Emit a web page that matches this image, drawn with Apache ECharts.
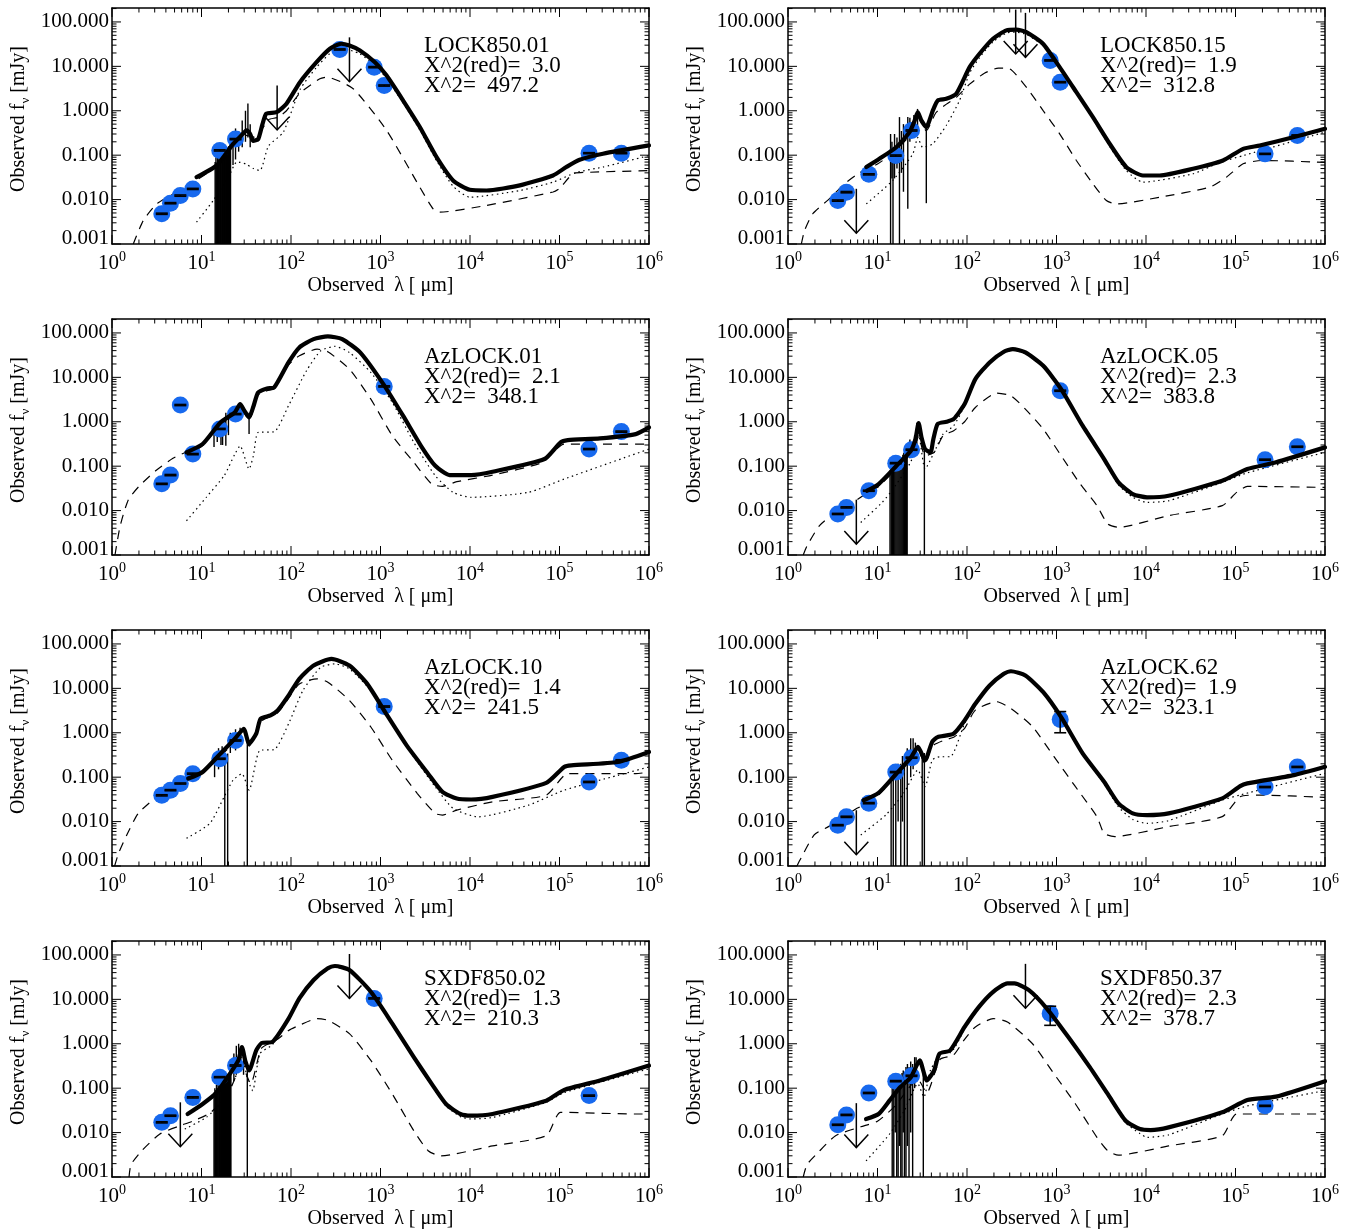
<!DOCTYPE html>
<html><head><meta charset="utf-8">
<script src="https://cdn.jsdelivr.net/npm/echarts@6/dist/echarts.min.js"></script>
<style>html,body{margin:0;padding:0;background:#fff}#c{width:1351px;height:1230px}</style>
</head><body><div id="c"></div>
<script>
// ---------- panel texts ----------
const panelNames = ['LOCK850.01','LOCK850.15','AzLOCK.01','AzLOCK.05','AzLOCK.10','AzLOCK.62','SXDF850.02','SXDF850.37'];
const chiRed = ['3.0','1.9','2.1','2.3','1.4','1.9','1.3','2.3'];
const chiTot = ['497.2','312.8','348.1','383.8','241.5','323.1','210.3','378.7'];
const xTickValues = [1,10,100,1e3,1e4,1e5,1e6];
const yTickValues = [0.001,0.01,0.1,1,10,100];
const tickMults = [1,2,3,4,5,6,7,8,9];

// ---------- LOCK850.01 ----------  [lambda um, flux mJy]  obs: [lambda, flux, error]
const lock01Total = [[8.8,0.032],[14.8,0.059],[22.6,0.18],[28,0.28],[32,0.36],[35,0.3],[37.8,0.21],[43,0.23],[48,0.5],[53,0.86],[69,0.93],[89,1.44],[126,4.4],[193,12.4],[272,24.9],[363,32.3],[450,29.5],[589,22.8],[865,12.4],[1170,6.2],[1790,1.7],[2750,0.43],[4230,0.09],[6470,0.027],[9950,0.0166],[15300,0.016],[36000,0.0209],[84700,0.035],[119000,0.054],[168000,0.079],[306000,0.108],[1e6,0.166]];
const lock01Dotted = [[8.8,0.0031],[13.5,0.0095],[20,0.032],[25,0.071],[31.6,0.063],[38,0.05],[45,0.045],[56,0.16],[82,0.33],[126,3.0],[193,9.5],[272,19.5],[363,26],[589,19],[865,10.5],[1170,5.3],[1790,1.5],[2750,0.37],[4230,0.075],[6470,0.02],[9950,0.0113],[36000,0.016],[84700,0.0247],[155000,0.041],[306000,0.054],[1e6,0.098]];
const lock01Dashed = [[1.73,0.001],[2.24,0.0034],[3.16,0.008],[5,0.014],[8.1,0.0247],[12.6,0.045],[20,0.112],[31.6,0.28],[39.8,0.25],[56,0.63],[71,0.71],[89,1.0],[126,2.5],[210,5.25],[251,5.7],[495,3.13],[1170,0.36],[2750,0.019],[3870,0.0062],[4600,0.0052],[15300,0.0074],[84700,0.0148],[100000,0.0178],[141000,0.038],[200000,0.041],[1e6,0.045]];
const lock01Obs = [[3.6,0.0048,0.00015],[4.5,0.0083,0.00025],[5.8,0.0123,0.0004],[8.0,0.0174,0.0005],[16,0.128,0.004],[24,0.23,0.007],[350,24,0.7],[850,9.6,0.3],[1100,3.7,0.11],[214000,0.111,0.003],[491000,0.111,0.003]];
const lock01Lim = [[70,3.7],[450,45]];
const lock01Irs = [[14.2,1e-4,0.07],[14.5,1e-4,0.09],[14.8,1e-4,0.06],[15.1,1e-4,0.1],[15.4,1e-4,0.08],[15.7,1e-4,0.12],[16.0,1e-4,0.09],[16.3,1e-4,0.11],[16.6,1e-4,0.07],[16.9,1e-4,0.1],[17.2,1e-4,0.13],[17.5,1e-4,0.09],[17.8,1e-4,0.12],[18.1,1e-4,0.1],[18.4,1e-4,0.14],[18.7,1e-4,0.11],[19.0,1e-4,0.12],[19.3,1e-4,0.09],[19.6,1e-4,0.15],[19.9,1e-4,0.12],[20.2,1e-4,0.16],[20.5,1e-4,0.13],[20.8,1e-4,0.18],[21.1,1e-4,0.15],[22.5,0.06,0.3],[24,0.08,0.4],[26,0.12,0.35],[28.5,0.15,0.6],[31,0.2,1.0],[33,0.25,1.45],[35,0.15,0.5]];

// ---------- LOCK850.15 ----------
const lock15Total = [[7.5,0.054],[10.5,0.083],[16.2,0.151],[22.8,0.33],[26,0.6],[28.2,0.93],[31,0.6],[35.1,0.43],[41.6,1.02],[47.3,1.71],[58.6,1.86],[75.9,2.42],[107,9.6],[138,19.2],[195,41.9],[275,64.6],[356,66.8],[460,58.9],[706,32.3],[1084,9.6],[1667,2.62],[2553,0.718],[3926,0.181],[6039,0.0537],[9247,0.0349],[14220,0.0349],[33500,0.0494],[72600,0.076],[121600,0.139],[186600,0.165],[440600,0.254],[1e6,0.394]];
const lock15Dotted = [[7.5,0.008],[14.8,0.027],[24.8,0.107],[28.2,0.25],[32,0.15],[41.6,0.181],[58.6,0.467],[82.6,1.71],[107,7.08],[138,15.8],[195,35.5],[275,56.2],[356,58.9],[460,52.5],[706,29.5],[1084,8.91],[1667,2.45],[2553,0.661],[3926,0.158],[6039,0.0447],[9247,0.0247],[33500,0.0381],[67600,0.0692],[123000,0.0984],[1e6,0.33]];
const lock15Dashed = [[1.41,0.001],[1.53,0.002],[1.89,0.0048],[2.91,0.0105],[4.29,0.0227],[6.3,0.04],[10,0.063],[15.8,0.126],[22.9,0.28],[28.2,0.71],[35.1,0.355],[44.7,0.89],[58.9,1.41],[75.9,2.0],[107,3.98],[158,7.08],[224,9.12],[299,8.81],[460,3.4],[706,1.02],[1084,0.303],[1667,0.076],[2553,0.0227],[3606,0.0095],[4667,0.008],[14220,0.0113],[51500,0.019],[79300,0.032],[121600,0.064],[203200,0.076],[1e6,0.069]];
const lock15Obs = [[3.6,0.0095,0.0003],[4.5,0.0147,0.0005],[8.0,0.037,0.0011],[16,0.098,0.003],[24,0.36,0.011],[850,13.6,0.4],[1100,4.4,0.13],[214000,0.107,0.003],[491000,0.278,0.008]];
const lock15Lim = [[5.8,0.0175],[350,190],[450,160]];
const lock15Irs = [[14.0,1e-4,0.3],[14.5,0.03,0.2],[14.9,1e-4,0.09],[15.5,0.03,0.3],[16.5,0.05,0.25],[17.6,1e-4,0.72],[18.5,0.04,0.35],[19.5,0.015,0.5],[21.8,0.0062,0.72],[23,0.2,0.7],[25.5,0.25,0.8],[28,0.4,1.1],[35.1,0.0083,0.43]];

// ---------- AzLOCK.01 ----------
const az01Total = [[6.8,0.205],[10.3,0.315],[16.3,0.968],[23.6,1.63],[27,2.5],[30,1.8],[34,1.25],[38,2.2],[42.9,4.58],[54,5.64],[64.9,5.93],[93.8,21.7],[124,47.2],[179,72.6],[258,83.4],[373,72.6],[592,36.4],[1076,7.06],[1786,1.37],[2831,0.288],[4093,0.102],[5916,0.063],[10280,0.063],[17870,0.075],[67900,0.145],[102800,0.344],[123600,0.387],[283000,0.423],[711000,0.528],[1e6,0.746]];
const az01Dotted = [[6.8,0.0059],[11.3,0.0199],[17.9,0.061],[23.6,0.187],[27,0.288],[34,0.086],[38,0.172],[42.9,0.575],[64.9,0.596],[93.8,2.3],[149,14.1],[215,39.7],[310,49.7],[449,36.4],[780,12.9],[1355,2.73],[2355,0.344],[4093,0.061],[6486,0.0257],[10280,0.0199],[44870,0.0257],[112700,0.0513],[1e6,0.243]];
const az01Dashed = [[1.08,0.001],[1.23,0.0044],[1.52,0.0174],[2.0,0.035],[3.1,0.08],[4.8,0.15],[6.5,0.2],[8,0.215],[10.3,0.29],[16.3,0.85],[23.6,1.4],[27,2.1],[34,1.1],[42.9,4.0],[54,5.0],[64.9,5.5],[93.8,19],[124,30.6],[196,43.3],[258,37.7],[449,15.3],[780,3.24],[1355,0.485],[2355,0.122],[3733,0.0396],[4920,0.0351],[7112,0.0447],[17870,0.063],[64900,0.122],[112700,0.315],[1e6,0.315]];
const az01Obs = [[3.6,0.040,0.0012],[4.5,0.063,0.002],[5.8,2.38,0.07],[8.0,0.187,0.006],[16,0.69,0.02],[24,1.49,0.045],[1100,6.25,0.19],[214000,0.243,0.007],[491000,0.60,0.018]];
const az01Lim = [];
const az01Irs = [[13.8,0.27,0.7],[15,0.35,0.8],[16.5,0.3,0.9],[17.2,0.3,1.0],[18.7,0.29,1.6],[20,0.5,1.3],[34,0.53,1.6]];

// ---------- AzLOCK.05 ----------
const az05Total = [[7.66,0.028],[10.3,0.0396],[16.3,0.102],[23.6,0.223],[26.5,0.4],[28.8,0.935],[31,0.45],[34,0.243],[39.1,0.205],[42,0.4],[47,0.887],[59,1.0],[71,1.15],[94,2.5],[124,9.14],[179,21.7],[258,37.7],[325,43.3],[449,36.4],[711,18.2],[1127,5.44],[1959,0.815],[3404,0.145],[4920,0.0432],[7112,0.0236],[10280,0.0199],[17870,0.0216],[71120,0.0471],[135500,0.0861],[283100,0.122],[1e6,0.265]];
const az05Dotted = [[6.5,0.0054],[11.3,0.0153],[14.9,0.0305],[23.6,0.126],[28.8,0.5],[34,0.086],[42.9,0.204],[54,0.528],[71,0.815],[94,2.29],[124,8.5],[179,20.4],[258,35.5],[325,40.7],[449,34.7],[711,17.4],[1127,5.25],[1959,0.79],[3404,0.138],[4920,0.038],[7112,0.02],[10280,0.0153],[17870,0.0166],[71120,0.0432],[135500,0.0708],[1e6,0.205]];
const az05Dashed = [[1.48,0.001],[1.63,0.0016],[2.25,0.0046],[3.4,0.0091],[5.0,0.014],[7.66,0.025],[10.3,0.035],[16.3,0.089],[23.6,0.19],[28.8,0.45],[34,0.172],[42.9,0.204],[54,0.484],[71,0.63],[94,1.0],[124,2.1],[215,4.43],[310,3.85],[449,1.93],[711,0.685],[1127,0.172],[1786,0.0432],[2831,0.0129],[3733,0.005],[4920,0.0042],[17870,0.0077],[71120,0.0129],[102800,0.0257],[135500,0.0351],[1e6,0.0333]];
const az05Obs = [[3.6,0.0084,0.00025],[4.5,0.0118,0.00035],[8.0,0.028,0.0008],[16,0.117,0.0035],[24,0.235,0.007],[1100,5.0,0.15],[214000,0.14,0.004],[491000,0.274,0.008]];
const az05Lim = [[5.8,0.0176]];
const az05Irs = [[13.8,1e-4,0.08],[14.25,1e-4,0.12],[14.7,1e-4,0.09],[15.15,1e-4,0.11],[15.6,1e-4,0.13],[16.05,1e-4,0.1],[16.5,1e-4,0.14],[16.95,1e-4,0.12],[17.4,1e-4,0.15],[17.85,1e-4,0.11],[18.3,1e-4,0.16],[18.75,1e-4,0.13],[19.2,1e-4,0.18],[19.65,1e-4,0.2],[20.1,1e-4,0.16],[20.55,1e-4,0.22],[21.0,1e-4,0.19],[21.45,1e-4,0.25],[23,0.15,0.4],[26,0.2,0.5],[27.5,0.25,0.95],[33.4,1e-4,0.24]];

// ---------- AzLOCK.10 ----------
const az10Total = [[7.1,0.093],[10.3,0.131],[16.3,0.339],[23.6,0.736],[29.6,1.23],[34,0.568],[40.9,0.953],[45.7,2.07],[59,2.46],[71,3.18],[94,6.92],[124,16.4],[179,32.6],[283,46.0],[449,32.6],[711,12.6],[1127,2.92],[1959,0.521],[3404,0.12],[4920,0.0467],[7112,0.033],[10280,0.0314],[17870,0.036],[71120,0.0743],[112700,0.17],[135500,0.185],[448700,0.22],[1e6,0.369]];
const az10Dotted = [[6.8,0.0042],[12.4,0.0091],[17.9,0.036],[22.5,0.0853],[28.3,0.12],[34,0.0509],[44.9,0.403],[64.9,0.417],[94,1.6],[136,8.95],[215,29.9],[310,35.6],[449,27.5],[780,8.95],[1355,1.6],[2355,0.285],[4093,0.0604],[6486,0.0197],[12360,0.0128],[44870,0.0234],[112700,0.0509],[448700,0.11],[1e6,0.17]];
const az10Dashed = [[1.07,0.001],[1.18,0.0019],[1.49,0.0054],[1.96,0.0152],[2.83,0.0303],[3.47,0.0429],[5.0,0.063],[7.8,0.112],[10.3,0.126],[16.3,0.302],[23.6,0.63],[29.6,1.12],[34,0.5],[45.7,1.78],[71,2.82],[94,6.03],[124,12.6],[196,16.4],[258,13.8],[449,5.35],[780,1.35],[1355,0.24],[2582,0.0428],[4093,0.0152],[4920,0.014],[7112,0.0181],[17870,0.0279],[71120,0.0393],[123600,0.12],[711000,0.12],[1e6,0.13]];
const az10Obs = [[3.6,0.039,0.0012],[4.5,0.051,0.0015],[5.8,0.072,0.002],[8.0,0.12,0.0036],[16,0.26,0.008],[24,0.67,0.02],[1100,3.9,0.12],[214000,0.078,0.0023],[491000,0.24,0.007]];
const az10Lim = [];
const az10Irs = [[14,0.1,0.35],[15.5,0.15,0.45],[17,0.2,0.5],[18.2,1e-4,0.34],[19.6,1e-4,0.34],[21,0.35,1.0],[24,0.4,1.2],[27,0.5,1.3],[32.5,1e-4,0.68]];

// ---------- AzLOCK.62 ----------
const az62Total = [[6.98,0.0303],[10.3,0.0444],[16.3,0.121],[23.6,0.275],[28.3,0.479],[34,0.24],[40.9,0.631],[47,0.8],[59,0.871],[71,0.951],[94,1.89],[124,4.48],[179,11.6],[258,21.2],[310,24.3],[449,19.4],[711,8.18],[1127,2.24],[1959,0.342],[3404,0.0789],[4920,0.0257],[7112,0.0153],[10280,0.014],[17870,0.0153],[71120,0.0333],[112700,0.063],[135500,0.0724],[448700,0.111],[1e6,0.171]];
const az62Dotted = [[6.5,0.005],[12.4,0.0141],[19.6,0.0432],[28.3,0.145],[34,0.061],[40.9,0.243],[49.2,0.288],[64.9,0.288],[94,1.62],[124,4.33],[179,11.2],[258,20.4],[310,23.4],[449,18.6],[711,7.94],[1127,2.14],[1959,0.324],[3404,0.0708],[4920,0.0214],[7112,0.0112],[10280,0.0091],[17870,0.0105],[71120,0.0305],[112700,0.0398],[1e6,0.122]];
const az62Dashed = [[1.26,0.001],[1.36,0.00136],[1.96,0.005],[2.83,0.0077],[3.56,0.01],[5.9,0.0199],[7.9,0.025],[10.3,0.04],[16.3,0.112],[23.6,0.25],[28.3,0.4],[34,0.2],[40.9,0.5],[59,0.71],[71,0.79],[94,1.26],[124,3.24],[215,5.0],[310,3.53],[540,1.37],[938,0.289],[1629,0.061],[2831,0.0129],[3404,0.0054],[4487,0.0046],[17870,0.0077],[71120,0.0129],[112700,0.0363],[178600,0.0396],[1e6,0.0351]];
const az62Obs = [[3.6,0.0083,0.00025],[4.5,0.0128,0.0004],[8.0,0.026,0.0008],[16,0.13,0.004],[24,0.275,0.008],[1100,2.0,1.0],[214000,0.06,0.0018],[491000,0.17,0.005]];
const az62Lim = [[5.8,0.018]];
const az62Irs = [[14.2,1e-4,0.1],[15,1e-4,0.12],[16,1e-4,0.13],[17,0.01,0.2],[18.2,1e-4,0.2],[19,0.01,0.3],[20,1e-4,0.3],[21.5,1e-4,0.45],[23.5,0.1,0.75],[25,0.15,0.75],[26.5,0.2,0.6],[31.6,1e-4,0.3],[33.4,1e-4,0.35]];

// ---------- SXDF850.02 ----------
const sx02Total = [[7.0,0.0262],[10.3,0.0441],[14.9,0.0809],[19.6,0.177],[25.8,0.421],[28.3,0.843],[31,0.4],[34,0.25],[40.9,0.71],[47,1.04],[61.9,1.1],[94,3.69],[124,10.5],[179,27.2],[258,49.9],[310,56.4],[449,45.8],[780,14.8],[1355,2.84],[2355,0.501],[3733,0.125],[5395,0.0441],[7798,0.0262],[10280,0.024],[17870,0.0262],[71120,0.0524],[112700,0.0912],[283100,0.149],[1e6,0.324]];
const sx02Dotted = [[6.5,0.012],[11.3,0.022],[17.9,0.056],[25.8,0.25],[28.3,0.5],[33,0.15],[37.3,0.0883],[44.9,0.596],[61.9,0.955],[94,3.47],[124,10],[179,25.7],[258,46.8],[310,53.1],[449,43.6],[780,14.1],[1355,2.69],[2355,0.468],[3733,0.115],[5395,0.0398],[7798,0.0229],[10280,0.0202],[17870,0.0219],[71120,0.0481],[112700,0.0794],[1e6,0.273]];
const sx02Dashed = [[1.55,0.001],[1.63,0.0019],[2.15,0.0039],[3.4,0.0092],[5.6,0.014],[7.9,0.018],[12.6,0.028],[20,0.079],[28.2,0.32],[35.5,0.126],[46.8,0.79],[70.8,1.26],[94,2.0],[124,2.61],[196,3.69],[258,3.38],[449,1.69],[780,0.421],[1355,0.0741],[2355,0.011],[3404,0.0039],[4700,0.003],[17870,0.005],[71120,0.0085],[102800,0.0286],[711000,0.0262],[1e6,0.0262]];
const sx02Obs = [[3.6,0.017,0.0005],[4.5,0.024,0.0007],[8.0,0.062,0.0019],[16,0.177,0.005],[24,0.324,0.01],[850,10.5,0.3],[214000,0.068,0.002]];
const sx02Lim = [[5.8,0.048],[450,105]];
const sx02Irs = [[13.8,1e-4,0.08],[14.1,1e-4,0.1],[14.4,1e-4,0.09],[14.7,1e-4,0.12],[15.0,1e-4,0.1],[15.3,1e-4,0.13],[15.6,1e-4,0.11],[15.9,1e-4,0.12],[16.2,1e-4,0.1],[16.5,1e-4,0.14],[16.8,1e-4,0.12],[17.1,1e-4,0.13],[17.4,1e-4,0.11],[17.7,1e-4,0.15],[18.0,1e-4,0.13],[18.3,1e-4,0.16],[18.6,1e-4,0.14],[18.9,1e-4,0.17],[19.2,1e-4,0.15],[19.5,1e-4,0.18],[19.8,1e-4,0.2],[20.1,1e-4,0.17],[20.4,1e-4,0.22],[20.7,1e-4,0.2],[21.0,1e-4,0.25],[21.3,1e-4,0.22],[23,0.15,0.6],[24.5,0.2,0.9],[26,0.25,1.0],[27.5,0.3,0.8],[29.5,0.2,0.6],[32.5,1e-4,0.3]];

// ---------- SXDF850.37 ----------
const sx37Total = [[7.45,0.0202],[10.3,0.0262],[13.6,0.0524],[17.9,0.105],[23.6,0.177],[29.6,0.421],[35.6,0.149],[42.9,0.25],[49.2,0.596],[64.9,0.71],[94,2.39],[136,6.78],[196,14.8],[283,22.9],[340,22.9],[492,16.1],[780,6.21],[1355,1.42],[2355,0.298],[3733,0.0741],[5916,0.0185],[8551,0.012],[11270,0.0114],[17870,0.0131],[71120,0.0286],[135500,0.0542],[283100,0.0646],[1e6,0.144]];
const sx37Dotted = [[7.45,0.0023],[13.6,0.0092],[20,0.0316],[28.2,0.126],[33,0.063],[39,0.25],[54,0.65],[64.9,0.631],[94,2.14],[136,6.31],[196,13.8],[283,21.6],[340,21.6],[492,15.1],[780,5.89],[1355,1.32],[2355,0.275],[3733,0.0676],[5916,0.0166],[8551,0.0095],[10280,0.0078],[17870,0.0089],[71120,0.0262],[135500,0.0398],[1e6,0.0883]];
const sx37Dashed = [[1.48,0.001],[1.63,0.0019],[2.15,0.0035],[3.4,0.0085],[6.5,0.0135],[10,0.018],[15.8,0.04],[28.2,0.158],[35.5,0.079],[50,0.447],[70.8,0.56],[94,1.26],[124,2.39],[196,3.69],[283,3.1],[540,1.0],[938,0.21],[1629,0.0441],[2831,0.0078],[3733,0.0039],[4920,0.0031],[17870,0.005],[71120,0.0085],[102800,0.0262],[1e6,0.0262]];
const sx37Obs = [[3.6,0.015,0.00045],[4.5,0.025,0.00075],[8.0,0.078,0.0023],[16,0.144,0.0045],[24,0.19,0.006],[850,4.8,2.2],[214000,0.04,0.0012]];
const sx37Lim = [[5.8,0.046],[450,63]];
const sx37Irs = [[14.6,1e-4,0.12],[15.2,1e-4,0.14],[15.8,0.01,0.15],[16.4,1e-4,0.17],[17,1e-4,0.13],[17.6,0.005,0.2],[18.2,1e-4,0.16],[18.8,1e-4,0.22],[19.4,0.01,0.25],[20,1e-4,0.2],[20.8,1e-4,0.3],[21.6,0.005,0.35],[22.5,1e-4,0.3],[23.5,0.01,0.4],[24.7,1e-4,0.35],[26,0.1,0.5],[27,0.15,0.5],[32.5,1e-4,0.24]];

// ---------- layout / style ----------
const SERIF = '"Liberation Serif", "Times New Roman", serif';
const BLUE = '#1769ee';
const gridLefts = [112, 788];
const gridTops = [8, 319, 630, 941];
const GW = 537, GH = 236;
const X_MIN = 1, X_MAX = 1e6, Y_MIN = 0.001, Y_MAX = 206;

const panels = [
  {total: lock01Total, dotted: lock01Dotted, dashed: lock01Dashed, obs: lock01Obs, lim: lock01Lim, irs: lock01Irs},
  {total: lock15Total, dotted: lock15Dotted, dashed: lock15Dashed, obs: lock15Obs, lim: lock15Lim, irs: lock15Irs},
  {total: az01Total, dotted: az01Dotted, dashed: az01Dashed, obs: az01Obs, lim: az01Lim, irs: az01Irs},
  {total: az05Total, dotted: az05Dotted, dashed: az05Dashed, obs: az05Obs, lim: az05Lim, irs: az05Irs},
  {total: az10Total, dotted: az10Dotted, dashed: az10Dashed, obs: az10Obs, lim: az10Lim, irs: az10Irs},
  {total: az62Total, dotted: az62Dotted, dashed: az62Dashed, obs: az62Obs, lim: az62Lim, irs: az62Irs},
  {total: sx02Total, dotted: sx02Dotted, dashed: sx02Dashed, obs: sx02Obs, lim: sx02Lim, irs: sx02Irs},
  {total: sx37Total, dotted: sx37Dotted, dashed: sx37Dashed, obs: sx37Obs, lim: sx37Lim, irs: sx37Irs}
];

const blk = {stroke: '#000', lineWidth: 1.5, fill: null};
function seg(x1, y1, x2, y2, w) {
  return {type: 'line', shape: {x1, y1, x2, y2}, style: {stroke: '#000', lineWidth: w || 1}};
}
function tickItem(params, api) {
  const cs = params.coordSys;
  const L = cs.x, R = cs.x + cs.width, T = cs.y, B = cs.y + cs.height;
  const ch = [];
  xTickValues.forEach(d => tickMults.forEach(m => {
    const v = d * m; if (v > X_MAX * 1.0001) return;
    const px = api.coord([v, 1])[0]; const len = m === 1 ? 9 : 4.5;
    ch.push(seg(px, B, px, B - len), seg(px, T, px, T + len));
  }));
  yTickValues.forEach(d => tickMults.forEach(m => {
    const v = d * m; if (v > Y_MAX) return;
    const py = api.coord([1, v])[1]; const len = m === 1 ? 9 : 4.5;
    ch.push(seg(L, py, L + len, py), seg(R, py, R - len, py));
  }));
  return {type: 'group', children: ch};
}
function errItem(params, api) {
  const x = api.value(0), y = api.value(1), e = api.value(2);
  const hi = api.coord([x, y + e]);
  const lo = api.coord([x, Math.max(y - e, y * 0.05)]);
  const w = 6;
  return {type: 'group', children: [
    seg(hi[0], hi[1], lo[0], lo[1], 1.5),
    seg(hi[0] - w, hi[1], hi[0] + w, hi[1], 1.6),
    seg(lo[0] - w, lo[1], lo[0] + w, lo[1], 1.6)
  ]};
}
function limItem(params, api) {
  const x = api.value(0), y = api.value(1);
  const t = api.coord([x, y]);
  const b = api.coord([x, y / 10]);
  return {type: 'group', children: [
    seg(t[0], t[1], b[0], b[1], 1.5),
    {type: 'polyline', shape: {points: [[b[0] - 12, b[1] - 13], [b[0], b[1]], [b[0] + 12, b[1] - 13]]}, style: blk}
  ]};
}
function irsItem(params, api) {
  const x = api.value(0);
  const a = api.coord([x, api.value(1)]);
  const b = api.coord([x, api.value(2)]);
  return seg(a[0], a[1], b[0], b[1], 1.4);
}

const grid = [], xAxis = [], yAxis = [], series = [], graphic = [];
const labelFont = {color: '#000', fontFamily: SERIF, fontSize: 21};
const axLine = {show: true, onZero: false, lineStyle: {color: '#000', width: 1.5}};
const SMOOTH = 0.2;

panels.forEach((p, i) => {
  const col = i % 2, row = Math.floor(i / 2);
  const gl = gridLefts[col], gt = gridTops[row];
  grid.push({left: gl, top: gt, width: GW, height: GH, containLabel: false});
  xAxis.push({
    type: 'log', logBase: 10, gridIndex: i, min: X_MIN, max: X_MAX, position: 'bottom', splitNumber: 6,
    axisLine: axLine, axisTick: {show: false}, splitLine: {show: false},
    axisLabel: {
      margin: 6, color: '#000',
      formatter: v => '{b|10}{s|' + Math.round(Math.log10(v)) + '}',
      rich: {
        b: {fontFamily: SERIF, fontSize: 21, lineHeight: 26, verticalAlign: 'middle', color: '#000'},
        s: {fontFamily: SERIF, fontSize: 14, lineHeight: 14, verticalAlign: 'top', color: '#000'}
      }
    },
    name: 'Observed  λ [ μm]', nameLocation: 'middle', nameGap: 32,
    nameTextStyle: {fontFamily: SERIF, fontSize: 20, color: '#000'}
  });
  xAxis.push({
    type: 'log', logBase: 10, gridIndex: i, min: X_MIN, max: X_MAX, position: 'top',
    axisLine: axLine, axisTick: {show: false}, splitLine: {show: false}, axisLabel: {show: false}
  });
  yAxis.push({
    type: 'log', logBase: 10, gridIndex: i, min: Y_MIN, max: Y_MAX, position: 'left', splitNumber: 5,
    axisLine: axLine, axisTick: {show: false}, splitLine: {show: false},
    axisLabel: Object.assign({}, labelFont, {
      margin: 3, showMaxLabel: false, showMinLabel: true,
      formatter: v => (v < 0.0015 ? '{lo|' + v.toFixed(3) + '}' : v.toFixed(3)),
      rich: {lo: {fontFamily: SERIF, fontSize: 21, color: '#000', padding: [0, 0, 12, 0]}}
    }),
    name: '{a|Observed f}{v|ν}{a| [mJy]}', nameLocation: 'middle', nameGap: 80, nameRotate: 90,
    nameTextStyle: {
      fontFamily: SERIF, fontSize: 20, color: '#000', padding: [0, 0, 0, 14],
      rich: {
        a: {fontFamily: SERIF, fontSize: 20, lineHeight: 26, verticalAlign: 'middle', color: '#000'},
        v: {fontFamily: SERIF, fontSize: 13, lineHeight: 13, verticalAlign: 'bottom', color: '#000'}
      }
    }
  });
  yAxis.push({
    type: 'log', logBase: 10, gridIndex: i, min: Y_MIN, max: Y_MAX, position: 'right',
    axisLine: axLine, axisTick: {show: false}, splitLine: {show: false}, axisLabel: {show: false}
  });
  const ax = {xAxisIndex: 2 * i, yAxisIndex: 2 * i};
  series.push(Object.assign({type: 'custom', renderItem: irsItem, data: p.irs, clip: true, z: 2,
    dimensions: ['x', 'lo', 'hi'], encode: {x: 0, y: [1, 2]}}, ax));
  series.push(Object.assign({type: 'line', data: p.dashed, symbol: 'none', z: 3, clip: true,
    smooth: SMOOTH,
    lineStyle: {color: '#000', width: 1.2, type: [9, 7]}}, ax));
  series.push(Object.assign({type: 'line', data: p.dotted, symbol: 'none', z: 3, clip: true,
    smooth: SMOOTH,
    lineStyle: {color: '#000', width: 1.2, type: [1.5, 3.5]}}, ax));
  series.push(Object.assign({type: 'scatter', data: p.obs.map(o => [o[0], o[1]]), symbol: 'circle', symbolSize: 17, z: 4,
    itemStyle: {color: BLUE, opacity: 1}}, ax));
  series.push(Object.assign({type: 'line', data: p.total, symbol: 'none', z: 5, clip: true,
    smooth: SMOOTH,
    lineStyle: {color: '#000', width: 4.2, join: 'round', cap: 'round'}}, ax));
  series.push(Object.assign({type: 'custom', renderItem: errItem, data: p.obs, z: 6, clip: false,
    dimensions: ['x', 'y', 'e'], encode: {x: 0, y: 1}}, ax));
  series.push(Object.assign({type: 'custom', renderItem: limItem, data: p.lim, z: 6, clip: true,
    encode: {x: 0, y: 1}}, ax));
  series.push(Object.assign({type: 'custom', renderItem: tickItem, data: [[10, 1]], z: 7, clip: false}, ax));

  const tx = gl + 312;
  const lines = [panelNames[i], 'X^2(red)=  ' + chiRed[i], 'X^2=  ' + chiTot[i]];
  const offs = [37.6, 58.2, 77.6];
  lines.forEach((t, k) => graphic.push({
    type: 'text', x: tx, y: gt + offs[k], silent: true, z: 10,
    style: {text: t, fill: '#000', font: '23px ' + SERIF, fontFamily: SERIF, fontSize: 23,
      textAlign: 'left', align: 'left', verticalAlign: 'middle', textVerticalAlign: 'middle'}
  }));
});

const chart = echarts.init(document.getElementById('c'), null, {renderer: 'canvas'});
chart.setOption({
  backgroundColor: '#fff', animation: false,
  grid, xAxis, yAxis, series, graphic
});
</script></body></html>
